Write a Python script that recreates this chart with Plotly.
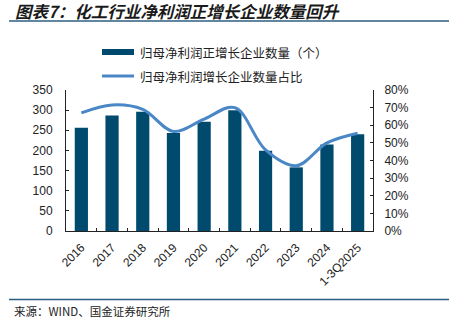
import plotly.graph_objects as go

categories = ["2016", "2017", "2018", "2019", "2020", "2021", "2022", "2023", "2024", "1-3Q2025"]
count_positive = [256, 287, 296, 243, 271, 300, 199, 158, 215, 240]
share_positive = [0.67, 0.715, 0.69, 0.565, 0.635, 0.70, 0.46, 0.37, 0.50, 0.555]

bar_name = "归母净利润正增长企业数量（个）"
line_name = "归母净利润增长企业数量占比"
title_text = "图表7：化工行业净利润正增长企业数量回升"
source_text = "来源：WIND、国金证券研究所"

BAR_COLOR = "#004a6e"
LINE_COLOR = "#4a87c6"
RULE_COLOR = "#2b5e80"
W, H = 449, 322
L, R, T, B = 66, 76, 90, 91
PW, PH = W - L - R, H - T - B

fig = go.Figure()
fig.add_trace(go.Bar(x=categories, y=count_positive, name=bar_name,
                     marker=dict(color=BAR_COLOR, line=dict(width=0)),
                     showlegend=False))
fig.add_trace(go.Scatter(x=categories, y=share_positive, name=line_name, yaxis="y2",
                         mode="lines", line=dict(color=LINE_COLOR, width=3, shape="spline", smoothing=1.0),
                         showlegend=False))

def px(x):
    return (x - L) / PW

def py(y):
    return (H - B - y) / PH

shapes = [
    dict(type="line", xref="paper", yref="paper", x0=px(9), x1=px(449), y0=py(21), y1=py(21),
         line=dict(color=RULE_COLOR, width=1.5)),
    dict(type="line", xref="paper", yref="paper", x0=px(9), x1=px(449), y0=py(299.5), y1=py(299.5),
         line=dict(color=RULE_COLOR, width=1.5)),
    dict(type="rect", xref="paper", yref="paper", x0=px(102), x1=px(134), y0=py(55), y1=py(49),
         fillcolor=BAR_COLOR, line=dict(width=0)),
    dict(type="line", xref="paper", yref="paper", x0=px(102), x1=px(134), y0=py(76), y1=py(76),
         line=dict(color=LINE_COLOR, width=3)),
]

annotations = [
    dict(text="<b><i>" + title_text + "</i></b>", xref="paper", yref="paper", x=px(13), y=py(11),
         xanchor="left", yanchor="middle", showarrow=False,
         font=dict(size=16.5, color="#1a1a1a", family="Noto Sans CJK SC")),
    dict(text=bar_name, xref="paper", yref="paper", x=px(138), y=py(52),
         xanchor="left", yanchor="middle", showarrow=False,
         font=dict(size=12.5, color="#222222", family="Noto Sans CJK SC")),
    dict(text=line_name, xref="paper", yref="paper", x=px(138), y=py(76),
         xanchor="left", yanchor="middle", showarrow=False,
         font=dict(size=12.5, color="#222222", family="Noto Sans CJK SC")),
    dict(text=source_text, xref="paper", yref="paper", x=px(12), y=py(311),
         xanchor="left", yanchor="middle", showarrow=False,
         font=dict(size=11.5, color="#222222", family="Noto Sans CJK SC")),
]

fig.update_layout(
    width=W, height=H,
    margin=dict(l=L, r=R, t=T, b=B, pad=0),
    paper_bgcolor="white", plot_bgcolor="white",
    bargap=0.57,
    font=dict(family="Liberation Sans, Arial, sans-serif", size=12, color="#222222"),
    xaxis=dict(type="category", showline=True, linecolor="#222222", linewidth=1,
               ticks="inside", ticklen=3, tickcolor="#222222", tickson="boundaries",
               tickangle=-45, showgrid=False, zeroline=False, tickfont=dict(size=12),
               ticklabelstandoff=4),
    yaxis=dict(range=[0, 350], dtick=50, showline=True, linecolor="#222222", linewidth=1,
               ticks="inside", ticklen=3, tickcolor="#222222", showgrid=False, zeroline=False,
               tickfont=dict(size=12), ticklabelstandoff=10),
    yaxis2=dict(range=[0, 0.8], dtick=0.1, tickformat=".0%", overlaying="y", side="right",
                showline=True, linecolor="#222222", linewidth=1, ticks="inside", ticklen=3,
                tickcolor="#222222", showgrid=False, zeroline=False, tickfont=dict(size=12),
                ticklabelstandoff=8),
    shapes=shapes,
    annotations=annotations,
    showlegend=False,
)

fig.write_html("out.html")
